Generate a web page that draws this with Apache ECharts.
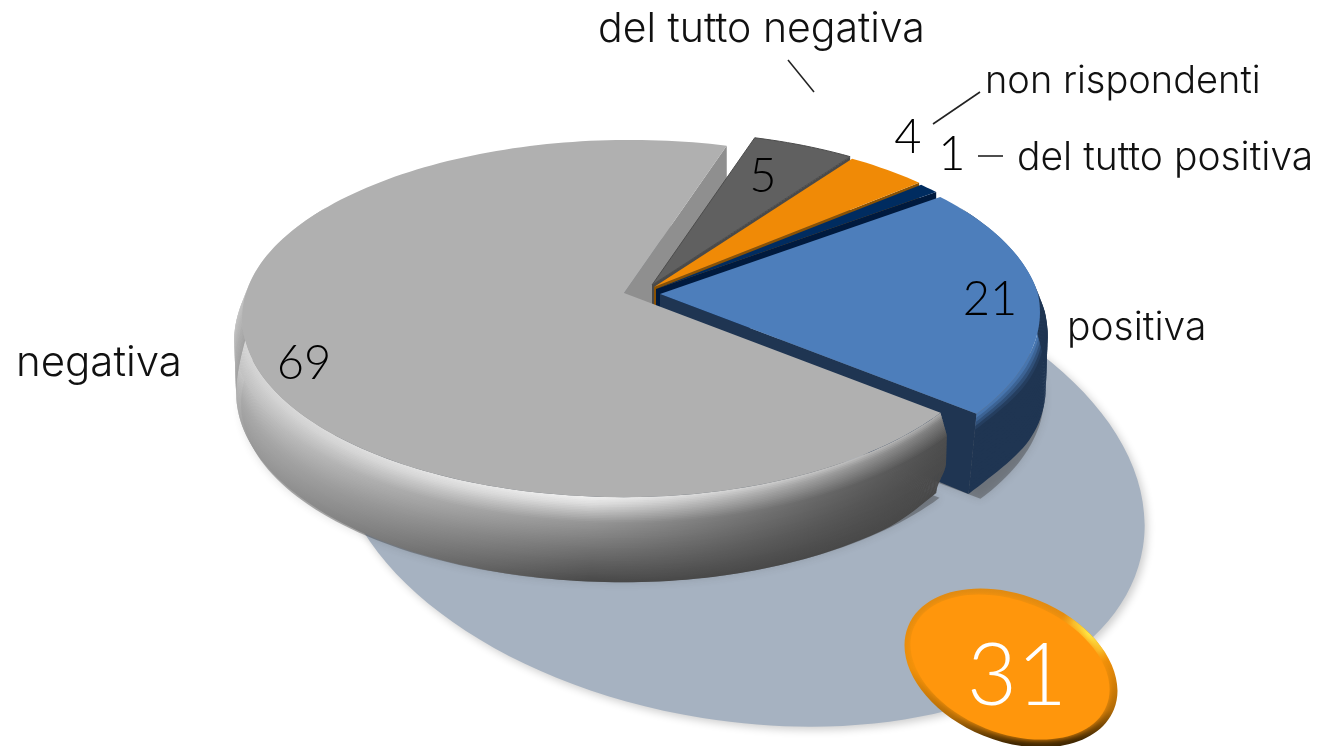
<!DOCTYPE html>
<html><head><meta charset="utf-8">
<style>html,body{margin:0;padding:0;background:#fff}#c{width:1321px;height:746px}</style>
<script src="https://cdn.jsdelivr.net/npm/echarts@6/dist/echarts.min.js"></script>
</head><body><div id="c"></div>
<script>
// ---- data ----
const categories = ['del tutto negativa','non rispondenti','del tutto positiva','positiva','negativa'];
const values = [5,4,1,21,69];
const badgeValue = 31;
// ---- layout / style (not data) ----
const START_DEG = 17, RX = 378, RY = 175, K = 1/7, DEPTH = 73, NEAR_SHIFT = 16, FAR_SHIFT = 6, BULGE = 8;
const apex = [[652,285],[654,287],[656,289],[660,294],[624,293]];
const topColor = ['#606060','#f08a06','#002c60','#4d7ebb','#b0b0b0'];
const cutColor = ['#4a4a4a','#8a5204','#001a3e','#1f3552','#8f8f8f'];
const nameAnchor = [[598,30],[985,82],[1017,158],[1067,328],[16,363]];
const nameSize = [41,38,39,39,42];
const valueAnchor = [[763,177],[908,138],[952,155],[990,300],[304,364]];
const leaders = [[[788,60],[814,92]],[[933,124],[980,92]],[[978,156],[1003,156]]];
const LABEL_FONT = 'Inter', VALUE_FONT = 'Lato';
// wall shading: [left, centre, right] grey level per height fraction
const greyStops = [
  [0,   [212,240,172]],
  [.08, [208,222,125]],
  [.3,  [192,150,78]],
  [.6,  [172,116,74]],
  [1,   [155,72,72]]
];
const total = values.reduce((a,b)=>a+b,0);
const rad = d => d*Math.PI/180;
function smooth(a,b,x){const t=Math.min(1,Math.max(0,(x-a)/(b-a)));return t*t*(3-2*t);}
function proj(deg,a){
  const u=Math.sin(rad(deg)),v=Math.cos(rad(deg)),d=1+K*v;
  const fade=smooth(58,100,deg)*(1-smooth(262,302,deg));
  const x=a[0]+RX*u/d-NEAR_SHIFT*Math.max(0,-v)*Math.max(0,u)+FAR_SHIFT*Math.max(0,v)*Math.max(0,v);
  return {x:x,y:a[1]-RY*v/d,h:DEPTH/d*fade,full:DEPTH/d,bx:BULGE*u*fade};
}
function lerp(a,b,t){return a+(b-a)*t;}
function interp3(t,c){return t<.5?lerp(c[0],c[1],t*2):lerp(c[1],c[2],(t-.5)*2);}
function greyAt(t,f){
  for(let i=0;i<greyStops.length-1;i++){
    const A=greyStops[i],B=greyStops[i+1];
    if(f<=B[0]) return lerp(interp3(t,A[1]),interp3(t,B[1]),(f-A[0])/(B[0]-A[0]));
  }
  return interp3(t,greyStops[greyStops.length-1][1]);
}
function grey(v){v=Math.round(v);return 'rgb('+v+','+v+','+v+')';}
function arcPts(s,e,a,dy,dx){
  const p=[],n=Math.max(2,Math.ceil((e-s)/1.5));
  for(let i=0;i<=n;i++){const q=proj(s+(e-s)*i/n,a);p.push([q.x+(dx||0),q.y+(dy||0)]);}
  return p;
}
// position on the wall at angle deg and height fraction f (0 top rim, 1 foot)
function wallPt(deg,a,f,idx,s){
  const q=proj(deg,a);
  let out=q.bx*Math.min(1,f/.28)*(f>.28?lerp(1,.75,(f-.28)/.72):1);
  let tuck=0;
  if(idx===3){ out*=1-smooth(112,128.6,deg); tuck=-8*smooth(106,128.6,deg)*f; }
  if(idx===4){ tuck=-9*smooth(.62,1,f)*(1-smooth(s,s+14,deg)); }
  return [q.x+out+tuck,q.y+q.h*f];
}
function wallBands(idx,s,e,a,z){
  const out=[],ws=Math.max(s,58),we=Math.min(e,302);
  if(we<=ws) return out;
  const nb=idx===4?52:20,na=Math.ceil((we-ws)/1.2);
  for(let b=0;b<nb;b++){
    const f0=b/nb,f1=Math.min(1,(b+1.5)/nb),fm=(b+.5)/nb;
    const pts=[];
    for(let i=0;i<=na;i++) pts.push(wallPt(ws+(we-ws)*i/na,a,f0,idx,s));
    for(let i=na;i>=0;i--) pts.push(wallPt(ws+(we-ws)*i/na,a,f1,idx,s));
    let fill;
    if(idx===4){
      const stops=[];
      for(let k=0;k<=8;k++){const t=k/8;stops.push({offset:t,color:grey(greyAt(t,fm))});}
      fill={type:'linear',global:true,x:238,y:0,x2:945,y2:0,colorStops:stops};
    }else if(idx===3){
      const m=Math.min(1,fm/.2),c=[lerp(77,31,m),lerp(126,53,m),lerp(187,82,m)].map(Math.round);
      fill='rgb('+c.join(',')+')';
    }else fill=cutColor[idx];
    out.push({type:'polygon',z2:z+b*0.01,shape:{points:pts},style:{fill:fill},silent:true});
  }
  return out;
}
function cutWall(deg,a,color,z,idx){
  const p=proj(deg,a),tuck=idx===3?-8:0;
  return {type:'polygon',z2:z,shape:{points:[a,[p.x,p.y],[p.x+tuck,p.y+p.full],[a[0],a[1]+DEPTH]]},style:{fill:color},silent:true};
}
function renderSlice(params,api){
  const i=params.dataIndex;
  let before=0; for(let j=0;j<i;j++) before+=values[j];
  const s=START_DEG+before/total*360,e=s+api.value(1)/total*360,a=apex[i];
  const kids=[],z=10+i*10;
  if(i>=3){ // shadow thrown on the floor
    const dy=DEPTH+12;
    kids.push({type:'polygon',z2:1,shape:{points:[[a[0]+3,a[1]+dy]].concat(arcPts(s,e,a,dy,i===4?-1:4))},
      style:{fill:'rgba(55,55,55,0.4)',shadowBlur:9,shadowColor:'rgba(55,55,55,0.45)'},silent:true});
  }
  kids.push(cutWall(e,a,cutColor[i],i===4?2:z,i));
  wallBands(i,s,e,a,z+1).forEach(k=>kids.push(k));
  kids.push({type:'polygon',z2:z+2,shape:{points:[a].concat(arcPts(s,e,a))},
    style:{fill:topColor[i],stroke:i===0?'#4c4c4c':'none',lineWidth:i===0?1:0},silent:true});
  kids.push({type:'text',z2:80,x:valueAnchor[i][0],y:valueAnchor[i][1],
    style:{text:String(api.value(1)),fontFamily:VALUE_FONT,fontWeight:300,fontSize:47,fill:'#000',align:'center',verticalAlign:'middle'},silent:true});
  kids.push({type:'text',z2:80,x:nameAnchor[i][0],y:nameAnchor[i][1],
    style:{text:categories[i],fontFamily:LABEL_FONT,fontWeight:300,fontSize:nameSize[i],fill:'#111',align:'left',verticalAlign:'middle'},silent:true});
  return {type:'group',children:kids};
}
const BX=1011,BY=668,BR=-rad(22);
const chart=echarts.init(document.getElementById('c'),null,{renderer:'canvas'});
chart.setOption({
  animation:false,
  backgroundColor:'#fff',
  graphic:{elements:[
    {type:'ellipse',z:0,x:740,y:483,rotation:-rad(9.06),shape:{cx:0,cy:0,rx:408,ry:238},
      style:{fill:'#a6b2c1',shadowBlur:8,shadowOffsetX:3,shadowOffsetY:3,shadowColor:'rgba(0,0,0,0.2)'},silent:true},
    ...leaders.map(l=>({type:'line',z:9,shape:{x1:l[0][0],y1:l[0][1],x2:l[1][0],y2:l[1][1]},style:{stroke:'#222',lineWidth:1.6},silent:true})),
    {type:'ellipse',z:20,x:BX,y:BY,rotation:BR,shape:{cx:0,cy:0,rx:111,ry:73},
      style:{fill:{type:'linear',x:.3,y:0,x2:.6,y2:1,colorStops:[{offset:0,color:'#df8a12'},{offset:.5,color:'#ee8f08'},{offset:.82,color:'#b06a06'},{offset:1,color:'#3f2600'}]}},silent:true},
    {type:'ellipse',z:21,x:BX,y:BY,rotation:BR,shape:{cx:0,cy:0,rx:111,ry:73},
      style:{fill:{type:'radial',x:.77,y:.08,r:.22,colorStops:[{offset:0,color:'rgba(255,235,70,1)'},{offset:.6,color:'rgba(255,215,60,.7)'},{offset:1,color:'rgba(255,190,40,0)'}]}},silent:true},
    {type:'ellipse',z:22,x:BX-1,y:BY-1,rotation:BR,shape:{cx:0,cy:0,rx:104,ry:66},
      style:{fill:'#ff960c',shadowBlur:6,shadowColor:'#ff960c'},silent:true},
    {type:'text',z:23,x:1017,y:677,style:{text:String(badgeValue),fontFamily:VALUE_FONT,fontWeight:300,fontSize:86,fill:'#fff',align:'center',verticalAlign:'middle'},silent:true}
  ]},
  series:[{
    type:'custom',name:'risposte',coordinateSystem:'none',z:5,
    renderItem:renderSlice,
    data:categories.map((c,i)=>({name:c,value:[i,values[i]]}))
  }]
});
</script></body></html>
